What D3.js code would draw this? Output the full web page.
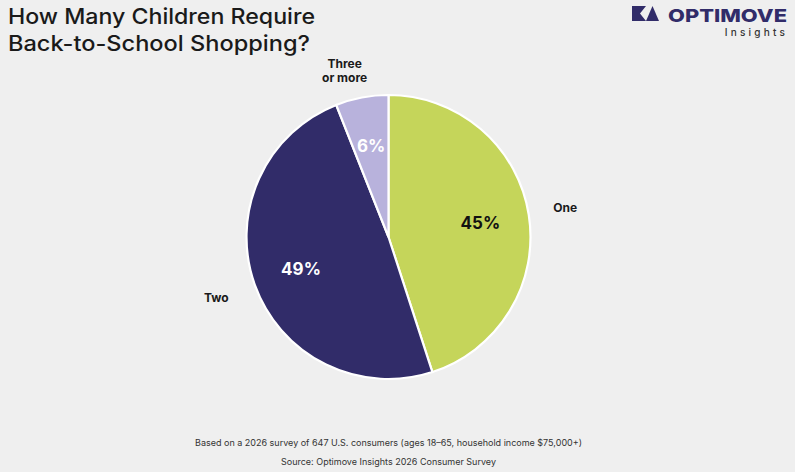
<!DOCTYPE html>
<html><head><meta charset="utf-8">
<script src="https://cdn.jsdelivr.net/npm/d3@7/dist/d3.min.js"></script>
<style>
html,body{margin:0;padding:0;background:#efefef;}
svg{display:block;}
</style></head>
<body>
<svg id="chart" width="795" height="472"></svg>
<script>
const categories = ["One", "Two", "Three or more"];
const values = [45, 49, 6];
const colors = ["#c5d55a", "#312c69", "#b8b2dc"];
const valueLabelColors = ["#111111", "#ffffff", "#ffffff"];
const titleLines = ["How Many Children Require", "Back-to-School Shopping?"];
const footnotes = [
  "Based on a 2026 survey of 647 U.S. consumers (ages 18\u201365, household income $75,000+)",
  "Source: Optimove Insights 2026 Consumer Survey"
];

const W = 795, H = 472;
const svg = d3.select("#chart");
svg.append("rect").attr("width", W).attr("height", H).attr("fill", "#efefef");

const font = "Inter, 'Open Sans', sans-serif";

// Title
const title = svg.append("text").attr("font-family", font).attr("font-size", 21)
  .attr("fill", "#1a1a1a").attr("font-weight", 500);
titleLines.forEach((t, i) => {
  title.append("tspan").attr("x", 8).attr("y", 24 + i * 26.5).text(t)
    .attr("textLength", i === 0 ? 307 : 302).attr("lengthAdjust", "spacingAndGlyphs");
});

// Logo
const logo = svg.append("g");
logo.append("path").attr("d", "M632,6 L646,6 L640,13.5 L646,21 L632,21 Z").attr("fill", "#312c69");
logo.append("path").attr("d", "M652.5,6 L659,21 L646,21 Z").attr("fill", "#312c69");
logo.append("text").attr("x", 668).attr("y", 22).attr("font-family", font)
  .attr("font-weight", 800).attr("font-size", 18).attr("fill", "#312c69")
  .attr("textLength", 119).attr("lengthAdjust", "spacingAndGlyphs").text("OPTIMOVE");
logo.append("text").attr("x", 788).attr("y", 36).attr("text-anchor", "end")
  .attr("font-family", font).attr("font-size", 10).attr("font-weight", 500).attr("letter-spacing", 3.2)
  .attr("fill", "#333").text("Insights");

// Pie
const cx = 388.5, cy = 237, R = 142;
const pie = d3.pie().sort(null).value(d => d)(values);
const arc = d3.arc().innerRadius(0).outerRadius(R);
const labelArc = d3.arc().innerRadius(93).outerRadius(93);
const outerArc = d3.arc().innerRadius(181).outerRadius(181);

const g = svg.append("g").attr("transform", `translate(${cx},${cy})`);
g.selectAll("path.slice").data(pie).enter().append("path")
  .attr("class", "slice")
  .attr("d", arc)
  .attr("fill", (d, i) => colors[i])
  .attr("stroke", "#ffffff").attr("stroke-width", 2.2);

g.selectAll("text.val").data(pie).enter().append("text")
  .attr("class", "val")
  .attr("transform", d => `translate(${labelArc.centroid(d)})`)
  .attr("text-anchor", "middle").attr("dy", "0.36em")
  .attr("font-family", font).attr("font-weight", 700).attr("font-size", 17)
  .attr("fill", (d, i) => valueLabelColors[i])
  .text(d => d.data + "%");

g.selectAll("text.cat").data(pie).enter().append("text")
  .attr("class", "cat")
  .attr("font-family", font).attr("font-weight", 700).attr("font-size", 12)
  .attr("fill", "#1a1a1a").attr("text-anchor", "middle")
  .each(function (d, i) {
    const [x, y] = outerArc.centroid(d);
    const words = categories[i].split(" ");
    const lines = words.length > 2 ? [words[0], words.slice(1).join(" ")] : [categories[i]];
    const sel = d3.select(this);
    const x0 = lines.length > 1 ? x - 10 : x - 2;
    const y0 = lines.length > 1 ? y + 11 : y - 1;
    lines.forEach((l, k) => {
      sel.append("tspan").attr("x", x0)
        .attr("y", y0 + (k - (lines.length - 1) / 2) * 14)
        .attr("dy", "0.36em").text(l);
    });
  });

// Footnotes
footnotes.forEach((t, i) => {
  svg.append("text").attr("x", 388.5).attr("y", 446 + i * 19)
    .attr("text-anchor", "middle").attr("font-family", font)
    .attr("font-size", 9).attr("fill", "#333").text(t);
});
</script>
</body></html>
